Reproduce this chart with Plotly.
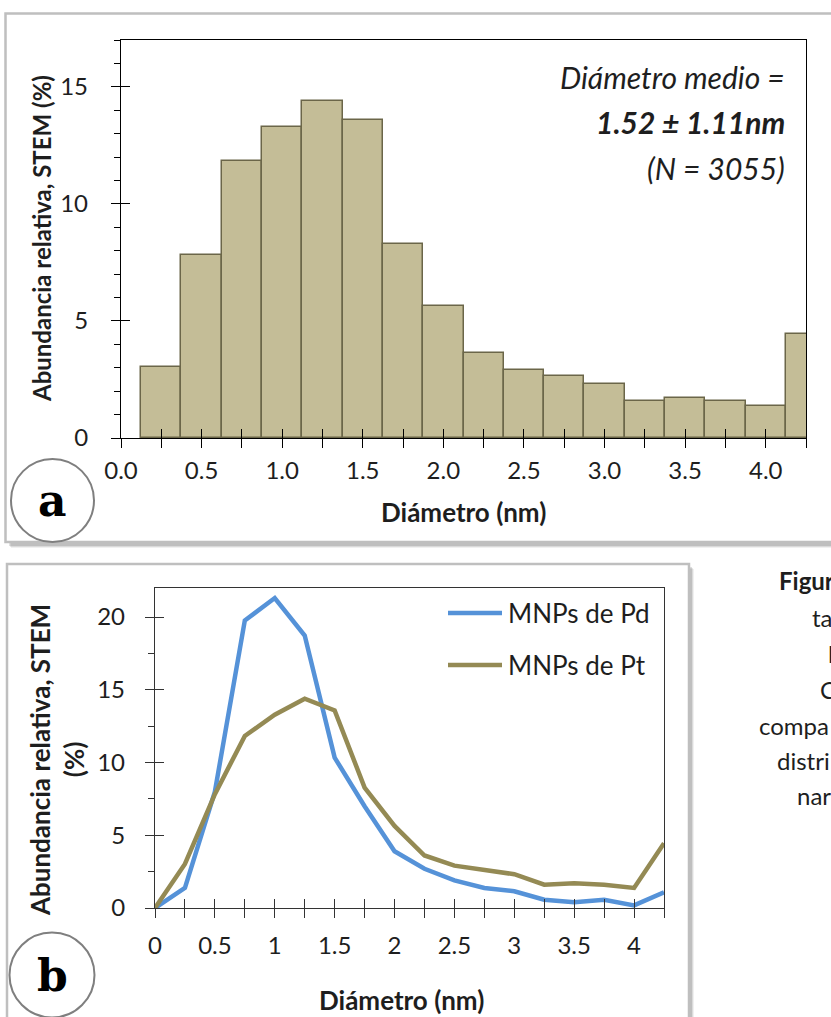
import plotly.graph_objects as go

# ---------------- data ----------------
# (a) size histogram of Pt nanoparticles, bins of 0.25 nm
bin_centers = [0.25, 0.5, 0.75, 1.0, 1.25, 1.5, 1.75, 2.0, 2.25, 2.5,
               2.75, 3.0, 3.25, 3.5, 3.75, 4.0, 4.25]
pt_abundance = [3.03, 7.83, 11.83, 13.29, 14.39, 13.58, 8.28, 5.64, 3.61, 2.91,
                2.63, 2.32, 1.60, 1.71, 1.60, 1.38, 4.45]

# (b) size distributions of Pd and Pt nanoparticles
line_diam = [0, 0.25, 0.5, 0.75, 1.0, 1.25, 1.5, 1.75, 2.0, 2.25, 2.5,
             2.75, 3.0, 3.25, 3.5, 3.75, 4.0, 4.25]
pd_curve = [0, 1.38, 8.0, 19.77, 21.31, 18.73, 10.34, 7.0, 3.9, 2.7, 1.9,
            1.38, 1.15, 0.57, 0.39, 0.57, 0.18, 1.08]
pt_curve = [0, 3.03, 7.83, 11.83, 13.29, 14.39, 13.58, 8.28, 5.64, 3.61, 2.91,
            2.63, 2.32, 1.60, 1.71, 1.60, 1.38, 4.45]
series_names = ["MNPs de Pd", "MNPs de Pt"]

tick_vals = [0, 0.25, 0.5, 0.75, 1.0, 1.25, 1.5, 1.75, 2.0, 2.25, 2.5,
             2.75, 3.0, 3.25, 3.5, 3.75, 4.0, 4.25]
top_tick_text = ["0.0", "", "0.5", "", "1.0", "", "1.5", "", "2.0", "",
                 "2.5", "", "3.0", "", "3.5", "", "4.0", ""]
bottom_tick_text = ["0", "", "0.5", "", "1", "", "1.5", "", "2", "",
                    "2.5", "", "3", "", "3.5", "", "4", ""]
top_y_ticks = [0, 5, 10, 15]
bottom_y_ticks = [0, 5, 10, 15, 20]

caption_lines = [("<b>Figur</b>", 777, 580), ("ta", 810, 617), ("l", 826, 653),
                 ("C", 818, 689), ("compa", 757, 725), ("distri", 775, 760),
                 ("nar", 795, 795)]

# ---------------- geometry helpers ----------------
W, H = 831, 1017


def px(x):
    return x / W


def py(y):
    return 1 - y / H


FONT = "Lato"
INK = "#1e1e1e"
BAR_FILL = "#C4BD97"
BAR_EDGE = "#6B6649"
PD_COLOR = "#5592D8"
PT_COLOR = "#948A54"
X_RANGE = [0, 4.25]

fig = go.Figure()

fig.add_trace(go.Bar(
    x=bin_centers, y=pt_abundance, width=0.25,
    marker=dict(color=BAR_FILL, line=dict(color=BAR_EDGE, width=1.5)),
    xaxis="x", yaxis="y", showlegend=False,
))

fig.add_trace(go.Scatter(
    x=line_diam, y=pd_curve, mode="lines", name=series_names[0],
    line=dict(color=PD_COLOR, width=4.5), xaxis="x2", yaxis="y2", showlegend=False,
))
fig.add_trace(go.Scatter(
    x=line_diam, y=pt_curve, mode="lines", name=series_names[1],
    line=dict(color=PT_COLOR, width=4.5), xaxis="x2", yaxis="y2", showlegend=False,
))

# empty traces so the overlay axes (inner half of the crossing ticks) get drawn
fig.add_trace(go.Scatter(x=[], y=[], xaxis="x3", yaxis="y3", showlegend=False, hoverinfo="skip"))
fig.add_trace(go.Scatter(x=[], y=[], xaxis="x4", yaxis="y4", showlegend=False, hoverinfo="skip"))

top_dom_x = [px(121), px(806)]
top_dom_y = [py(438), py(40)]
bot_dom_x = [px(155), px(664)]
bot_dom_y = [py(908), py(588)]

tickfont = dict(family=FONT, size=24, color=INK)
common = dict(automargin=False, showgrid=False, zeroline=False)

fig.update_layout(
    width=W, height=H,
    margin=dict(l=0, r=0, t=0, b=0),
    paper_bgcolor="white",
    plot_bgcolor="rgba(0,0,0,0)",
    bargap=0,
    xaxis=dict(
        domain=top_dom_x, range=X_RANGE, anchor="y",
        tickmode="array", tickvals=tick_vals, ticktext=top_tick_text,
        ticks="outside", ticklen=9, tickwidth=1.3, tickcolor="black",
        showline=True, linecolor="black", linewidth=1.3, mirror=True,
        tickfont=tickfont, ticklabelstandoff=2, **common,
    ),
    yaxis=dict(
        domain=top_dom_y, range=[0, 17], anchor="x",
        tickmode="array", tickvals=top_y_ticks,
        ticks="outside", ticklen=9, tickwidth=1.3, tickcolor="black",
        minor=dict(dtick=1, tick0=0, ticks="outside", ticklen=6, tickwidth=1.3, tickcolor="black"),
        showline=True, linecolor="black", linewidth=1.3, mirror=True,
        tickfont=tickfont, ticklabelstandoff=18, **common,
    ),
    xaxis3=dict(
        overlaying="x", anchor="y", range=X_RANGE,
        tickmode="array", tickvals=tick_vals, showticklabels=False,
        ticks="inside", ticklen=9, tickwidth=1.3, tickcolor="black",
        showline=False, layer="above traces", **common,
    ),
    yaxis3=dict(
        overlaying="y", anchor="x", range=[0, 17],
        tickmode="array", tickvals=top_y_ticks, showticklabels=False,
        ticks="inside", ticklen=9, tickwidth=1.3, tickcolor="black",
        showline=False, layer="above traces", **common,
    ),
    xaxis2=dict(
        domain=bot_dom_x, range=X_RANGE, anchor="y2",
        tickmode="array", tickvals=tick_vals, ticktext=bottom_tick_text,
        ticks="outside", ticklen=9, tickwidth=1.3, tickcolor="#333",
        showline=True, linecolor="#333", linewidth=1.3, mirror=True,
        tickfont=tickfont, ticklabelstandoff=7, **common,
    ),
    yaxis2=dict(
        domain=bot_dom_y, range=[0, 22], anchor="x2",
        tickmode="array", tickvals=bottom_y_ticks,
        ticks="outside", ticklen=9, tickwidth=1.3, tickcolor="#333",
        minor=dict(dtick=2.5, tick0=0, ticks="outside", ticklen=6, tickwidth=1.3, tickcolor="#333"),
        showline=True, linecolor="#333", linewidth=1.3, mirror=True,
        tickfont=tickfont, ticklabelstandoff=15, **common,
    ),
    xaxis4=dict(
        overlaying="x2", anchor="y2", range=X_RANGE,
        tickmode="array", tickvals=tick_vals, showticklabels=False,
        ticks="inside", ticklen=9, tickwidth=1.3, tickcolor="#333",
        showline=False, layer="above traces", **common,
    ),
    yaxis4=dict(
        overlaying="y2", anchor="x2", range=[0, 22],
        tickmode="array", tickvals=bottom_y_ticks, showticklabels=False,
        ticks="inside", ticklen=9, tickwidth=1.3, tickcolor="#333",
        showline=False, layer="above traces", **common,
    ),
)

shapes = []
# panel frames with a soft drop shadow
for off, alpha in [(5, 0.06), (4, 0.09), (3, 0.12)]:
    shapes.append(dict(type="rect", xref="paper", yref="paper", layer="below",
                       x0=px(6 + off), x1=px(845), y0=py(543 + off), y1=py(13 + off),
                       line=dict(width=0), fillcolor=f"rgba(0,0,0,{alpha})"))
    shapes.append(dict(type="rect", xref="paper", yref="paper", layer="below",
                       x0=px(7 + off), x1=px(689 + off), y0=py(1040), y1=py(564 + off),
                       line=dict(width=0), fillcolor=f"rgba(0,0,0,{alpha})"))
shapes.append(dict(type="rect", xref="paper", yref="paper", layer="below",
                   x0=px(5.5), x1=px(845), y0=py(542), y1=py(13.5),
                   line=dict(color="#BFBFBF", width=2.5), fillcolor="white"))
shapes.append(dict(type="rect", xref="paper", yref="paper", layer="below",
                   x0=px(7), x1=px(689), y0=py(1040), y1=py(564),
                   line=dict(color="#BFBFBF", width=2.5), fillcolor="white"))
# panel letter circles
shapes.append(dict(type="circle", xref="paper", yref="paper", layer="above",
                   x0=px(11), x1=px(94), y0=py(542), y1=py(459),
                   line=dict(color="#7F7F7F", width=2), fillcolor="white"))
shapes.append(dict(type="circle", xref="paper", yref="paper", layer="above",
                   x0=px(9.5), x1=px(94.5), y0=py(1017.5), y1=py(932.5),
                   line=dict(color="#7F7F7F", width=2), fillcolor="white"))
# legend samples
legend_rows = [(series_names[0], PD_COLOR, 613), (series_names[1], PT_COLOR, 665)]
for name, color, yy in legend_rows:
    shapes.append(dict(type="line", xref="paper", yref="paper",
                       x0=px(448), x1=px(502), y0=py(yy), y1=py(yy),
                       line=dict(color=color, width=4.5)))
fig.update_layout(shapes=shapes)

ann = []
for name, color, yy in legend_rows:
    ann.append(dict(text=name, xref="paper", yref="paper", x=px(506), y=py(yy),
                    xanchor="left", yanchor="middle", showarrow=False,
                    font=dict(family=FONT, size=26, color=INK)))

# axis titles
ann.append(dict(text="<b>Diámetro (nm)</b>", xref="paper", yref="paper",
                x=px(463), y=py(512), xanchor="center", yanchor="middle",
                showarrow=False, font=dict(family=FONT, size=26, color=INK)))
ann.append(dict(text="<b>Abundancia relativa, STEM (%)</b>", xref="paper", yref="paper",
                x=px(41), y=py(239), xanchor="center", yanchor="middle", textangle=-90,
                showarrow=False, font=dict(family=FONT, size=24, color=INK)))
ann.append(dict(text="<b>Diámetro (nm)</b>", xref="paper", yref="paper",
                x=px(401), y=py(1000), xanchor="center", yanchor="middle",
                showarrow=False, font=dict(family=FONT, size=26, color=INK)))
ann.append(dict(text="<b>Abundancia relativa, STEM<br>(%)</b>", xref="paper", yref="paper",
                x=px(57), y=py(760), xanchor="center", yanchor="middle", textangle=-90,
                showarrow=False, font=dict(family=FONT, size=26, color=INK)))

# mean diameter box
stat_font = dict(family=FONT, size=30, color=INK)
for txt, yy in [("<i>Diámetro medio =</i>", 77),
                ("<b><i>1.52 ± 1.11nm</i></b>", 122),
                ("<i>(N = 3055)</i>", 168)]:
    ann.append(dict(text=txt, xref="paper", yref="paper", x=px(787), y=py(yy),
                    xanchor="right", yanchor="middle", showarrow=False, font=stat_font))

# panel letters
for letter, yy in [("a", 500), ("b", 975)]:
    ann.append(dict(text=f"<b>{letter}</b>", xref="paper", yref="paper",
                    x=px(52), y=py(yy), xanchor="center", yanchor="middle",
                    showarrow=False, font=dict(family="DejaVu Serif", size=44, color="black")))

# figure caption running off the right edge
for txt, xx, yy in caption_lines:
    ann.append(dict(text=txt, xref="paper", yref="paper", x=px(xx), y=py(yy),
                    xanchor="left", yanchor="middle", showarrow=False,
                    font=dict(family=FONT, size=24, color=INK)))

fig.update_layout(annotations=ann)

fig.write_html("out.html")
